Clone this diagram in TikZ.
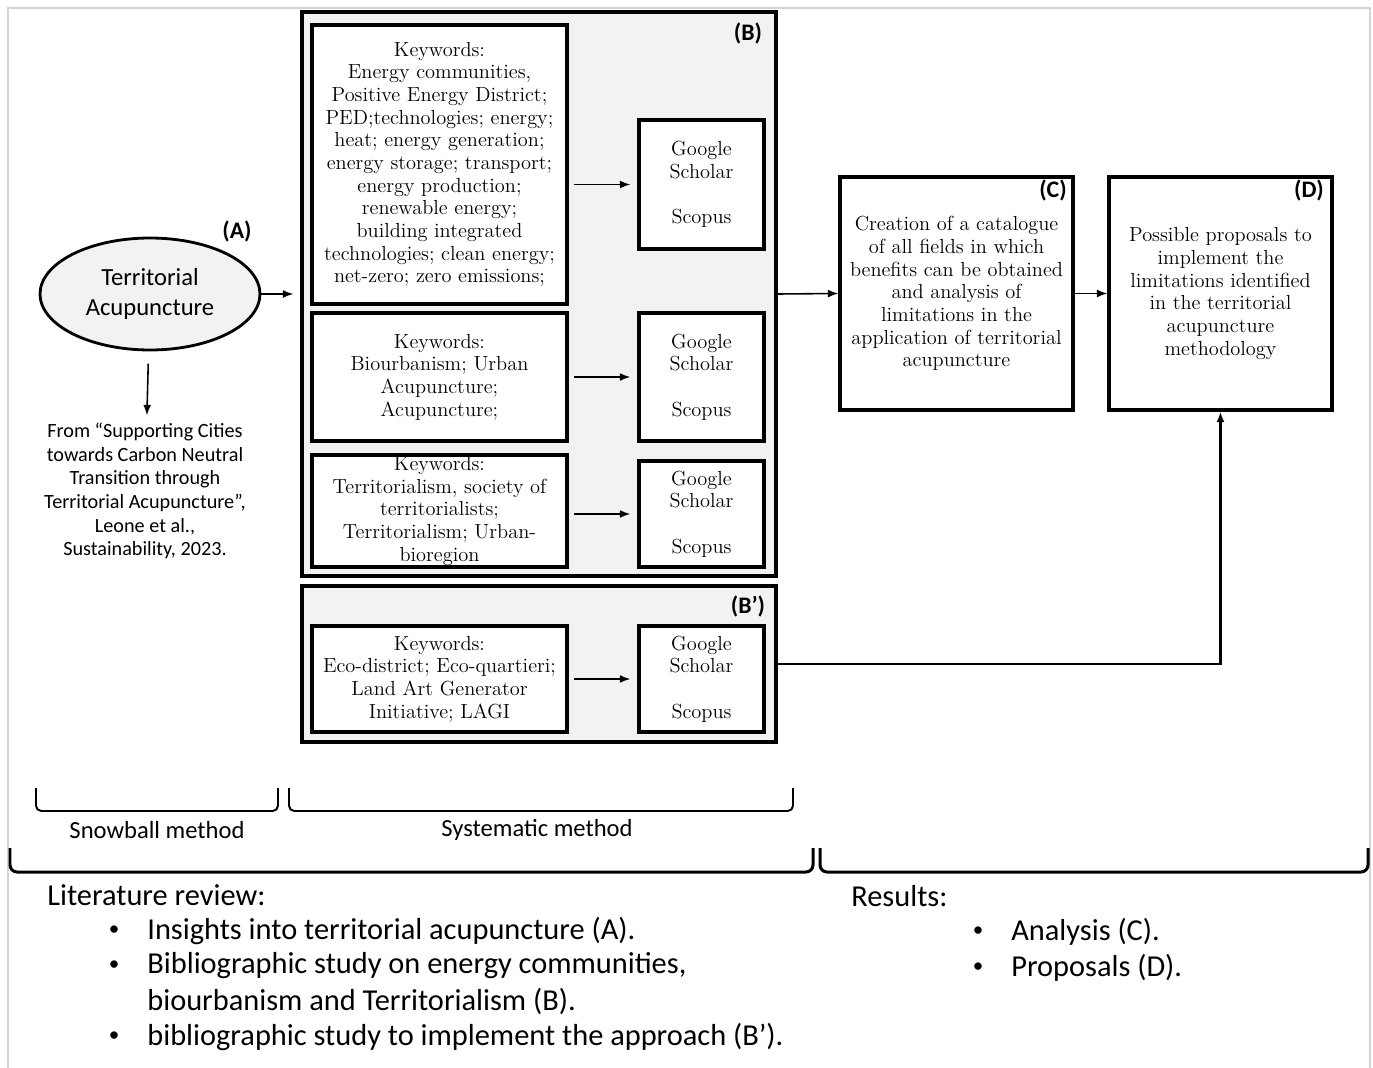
\documentclass[tikz,border=0pt]{standalone}
\usepackage{fontspec}
\newfontfamily\calibri{Carlito}
\usetikzlibrary{shapes.geometric,arrows.meta}
\definecolor{grayfill}{HTML}{F2F2F2}
\definecolor{framegray}{HTML}{D4D4D4}

\begin{document}
\begin{tikzpicture}[x=0.02cm, y=-0.02cm,
	kwbox/.style={rectangle, draw=black, line width=1.8pt, fill=white, inner sep=0pt, align=center, minimum width=5.1cm, font=\fontsize{11.6}{12.9}\selectfont},
	dbbox/.style={rectangle, draw=black, line width=1.8pt, fill=white, inner sep=0pt, align=center, minimum width=2.5cm, font=\fontsize{11.6}{12.9}\selectfont},
	grpbox/.style={rectangle, draw=black, line width=1.8pt, fill=grayfill, inner sep=0pt, minimum width=9.48cm},
	resbox/.style={rectangle, draw=black, line width=1.8pt, fill=white, inner sep=0pt, align=center, minimum height=4.66cm, font=\fontsize{11.6}{12.9}\selectfont},
	tag/.style={inner sep=0pt, font=\calibri\bfseries\fontsize{13.5}{15}\selectfont},
	arr/.style={-{Latex[length=6pt,width=4.5pt]}, line width=0.9pt},
	brk/.style={line width=1.1pt, rounded corners=3pt},
	bigbrk/.style={line width=1.7pt, rounded corners=4pt},
	plain/.style={inner sep=0pt, align=center, font=\calibri\fontsize{14}{16}\selectfont},
	list/.style={inner sep=0pt, anchor=west, font=\calibri\fontsize{17.3}{20}\selectfont},
	dot/.style={inner sep=0pt, font=\calibri\fontsize{12}{14}\selectfont}]
	\useasboundingbox (0,0) rectangle (1373,1068);
	\draw[framegray, line width=1pt] (8,1068) -- (8,8) -- (1370,8) -- (1370,1068);
	
	% (A)
	\node[ellipse, draw=black, line width=1.6pt, fill=grayfill, minimum width=4.4cm, minimum height=2.24cm, inner sep=0pt, align=center, font=\calibri\fontsize{14}{17}\selectfont] (ta) at (150,294) {Territorial\\Acupuncture};
	\node[tag] (tga) at (237,231) {(A)};
	\node[inner sep=0pt, align=center, font=\calibri\fontsize{11.5}{13.5}\selectfont] (cite) at (145,491) {From “Supporting Cities\\towards Carbon Neutral\\Transition through\\Territorial Acupuncture”,\\Leone et al.,\\Sustainability, 2023.};
	
	% (B) and (B')
	\node[grpbox, minimum height=11.28cm] (blk) at (539,294) {};
	\node[grpbox, minimum height=3.12cm] (bp) at (539,664) {};
	\node[tag] (tgb) at (748,33) {(B)};
	\node[tag] (tgbp) at (748,606) {(B’)};
	
	\node[kwbox, minimum height=5.58cm] (kw1) at (439.5,164.5) {Keywords:\\Energy communities,\\Positive Energy District;\\PED;technologies; energy;\\heat; energy generation;\\energy storage; transport;\\energy production;\\renewable energy;\\building integrated\\technologies; clean energy;\\net-zero; zero emissions;};
	\node[kwbox, minimum height=2.56cm] (kw2) at (439.5,377) {Keywords:\\Biourbanism; Urban\\Acupuncture;\\Acupuncture;};
	\node[kwbox, minimum height=2.24cm] (kw3) at (439.5,511) {Keywords:\\Territorialism, society of\\territorialists;\\Territorialism; Urban-\\bioregion};
	\node[kwbox, minimum height=2.12cm] (kw4) at (439.5,679) {Keywords:\\Eco-district; Eco-quartieri;\\Land Art Generator\\Initiative; LAGI};
	
	\node[dbbox, minimum height=2.58cm] (gs1) at (701.5,184.5) {Google\\Scholar\\[12.9pt]Scopus};
	\node[dbbox, minimum height=2.56cm] (gs2) at (701.5,377) {Google\\Scholar\\[12.9pt]Scopus};
	\node[dbbox, minimum height=2.12cm] (gs3) at (701.5,514) {Google\\Scholar\\[12.9pt]Scopus};
	\node[dbbox, minimum height=2.12cm] (gs4) at (701.5,679) {Google\\Scholar\\[12.9pt]Scopus};
	
	\draw[arr, shorten <=3pt, shorten >=4pt] (kw1.east |- gs1.west) -- (gs1.west);
	\draw[arr, shorten <=3pt, shorten >=4pt] (kw2.east |- gs2.west) -- (gs2.west);
	\draw[arr, shorten <=3pt, shorten >=4pt] (kw3.east |- gs3.west) -- (gs3.west);
	\draw[arr, shorten <=3pt, shorten >=4pt] (kw4.east |- gs4.west) -- (gs4.west);
	
	% (C) and (D)
	\node[resbox, minimum width=4.66cm] (cc) at (956.5,293.5) {Creation of a catalogue\\of all fields in which\\benefits can be obtained\\and analysis of\\limitations in the\\application of territorial\\acupuncture};
	\node[resbox, minimum width=4.46cm] (dd) at (1220.5,293.5) {Possible proposals to\\implement the\\limitations identified\\in the territorial\\acupuncture\\methodology};
	\node[tag] (tgc) at (1053,190) {(C)};
	\node[tag] (tgd) at (1309,190) {(D)};
	
	\draw[arr, shorten >=4pt] (ta.east) -- (blk.west);
	\draw[arr, shorten <=7pt, shorten >=4pt] (ta) -- (cite);
	\draw[arr] (blk.east) -- (cc.west);
	\draw[arr] (cc.east) -- (dd.west);
	\draw[arr, line width=1.4pt] (bp.east) -| (dd.south);
	
	% brackets
	\draw[brk] (36,788) |- (278,811) -- (278,788);
	\draw[brk] (289,788) |- (793,811) -- (793,788);
	\node[plain] (snow) at (157,830) {Snowball method};
	\node[plain] (syst) at (537,830) {Systematic method};
	\draw[bigbrk] (10,848) |- (813,872) -- (813,848);
	\draw[bigbrk] (820,848) |- (1368,872) -- (1368,848);
	
	% lists
	\node[list] (lit) at (47,895) {Literature review:};
	\node[dot] (b1) at (114,931) {•};
	\node[list] (l1) at (147,931) {Insights into territorial acupuncture (A).};
	\node[dot] (b2) at (114,966) {•};
	\node[list] (l2) at (147,966) {Bibliographic study on energy communities,};
	\node[list] (l3) at (147,1001) {biourbanism and Territorialism (B).};
	\node[dot] (b3) at (114,1037) {•};
	\node[list] (l4) at (147,1037) {bibliographic study to implement the approach (B’).};
	\node[list] (res) at (851,896) {Results:};
	\node[dot] (b4) at (978,932) {•};
	\node[list] (r1) at (1011,932) {Analysis (C).};
	\node[dot] (b5) at (978,968) {•};
	\node[list] (r2) at (1011,968) {Proposals (D).};
\end{tikzpicture}
\end{document}
